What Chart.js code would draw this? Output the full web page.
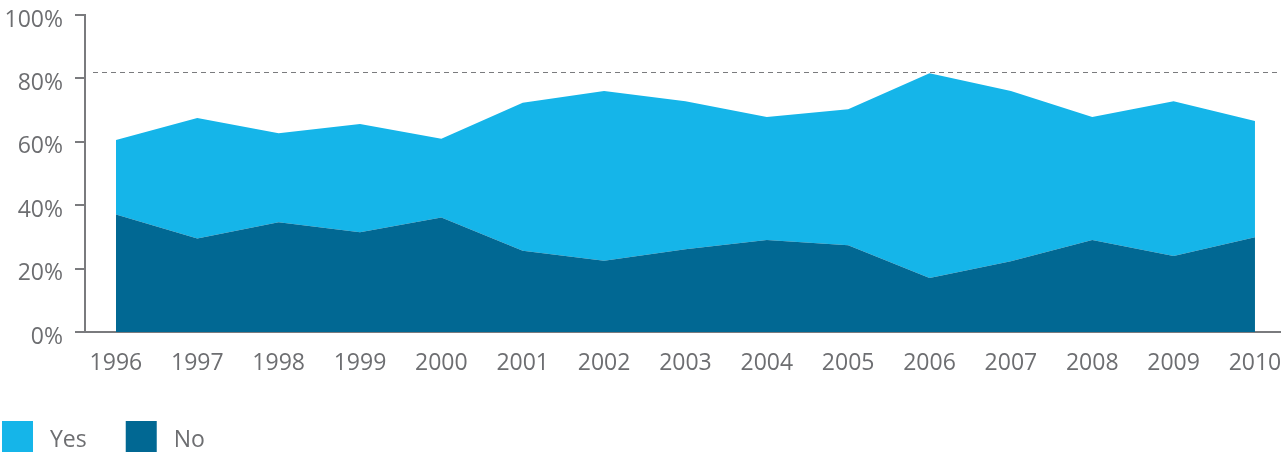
<!DOCTYPE html>
<html>
<head>
<meta charset="utf-8">
<script src="https://cdn.jsdelivr.net/npm/chart.js@4/dist/chart.umd.min.js"></script>
<style>
  html, body { margin: 0; padding: 0; background: #fff; }
  canvas { display: block; }
</style>
</head>
<body>
<canvas id="surveyChart" width="1281" height="455"></canvas>
<script>
// survey answers per year, in percent
var years = [1996, 1997, 1998, 1999, 2000, 2001, 2002, 2003, 2004, 2005, 2006, 2007, 2008, 2009, 2010];
var yesValues = [23.5, 38.0, 28.1, 34.1, 24.9, 46.7, 53.5, 46.7, 38.8, 42.9, 64.6, 53.7, 38.8, 48.8, 36.7];
var noValues = [37.1, 29.5, 34.6, 31.5, 36.1, 25.6, 22.5, 26.1, 29.0, 27.4, 17.0, 22.3, 29.0, 24.0, 29.9];
var yTicks = [0, 20, 40, 60, 80, 100];
var peakLine = 82;

var yesColor = '#15b5e9';
var noColor = '#016893';
var axisColor = '#7a7b7e';
var textColor = '#6d6e71';
var fontFamily = '"Open Sans", "Noto Sans", sans-serif';

document.addEventListener('DOMContentLoaded', function () {
    function points(values) {
        return values.map(function (v, i) { return { x: years[i], y: v }; });
    }

    // dashed line across the plot at the peak level
    var peakLinePlugin = {
        id: 'peakLine',
        afterDatasetsDraw: function (chart) {
            var ctx = chart.ctx;
            var area = chart.chartArea;
            var y = Math.round(chart.scales.y.getPixelForValue(peakLine)) + 0.5;
            ctx.save();
            ctx.strokeStyle = axisColor;
            ctx.lineWidth = 1.2;
            ctx.setLineDash([5, 4]);
            ctx.beginPath();
            ctx.moveTo(area.left + 8, y);
            ctx.lineTo(area.right, y);
            ctx.stroke();
            ctx.restore();
        }
    };

    // square swatches with labels along the bottom, Yes first
    var bottomLegend = {
        id: 'bottomLegend',
        afterDraw: function (chart) {
            var ctx = chart.ctx;
            var items = chart.data.datasets.slice().reverse();
            var x = 2;
            var top = 421;
            var box = 31;
            ctx.save();
            ctx.font = '23px ' + fontFamily;
            ctx.textBaseline = 'middle';
            ctx.textAlign = 'left';
            items.forEach(function (ds) {
                ctx.fillStyle = ds.backgroundColor;
                ctx.fillRect(x, top, box, box);
                ctx.fillStyle = textColor;
                ctx.fillText(ds.label, x + box + 17, top + box / 2 + 4);
                x += box + 17 + ctx.measureText(ds.label).width + 39;
            });
            ctx.restore();
        }
    };

    var ctx = document.getElementById('surveyChart').getContext('2d');
    var areaChart = new Chart(ctx, {
        type: 'line',
        data: {
            datasets: [{
                label: 'No',
                data: points(noValues),
                backgroundColor: noColor,
                borderWidth: 0,
                pointRadius: 0,
                fill: 'origin'
            }, {
                label: 'Yes',
                data: points(yesValues),
                backgroundColor: yesColor,
                borderWidth: 0,
                pointRadius: 0,
                fill: '-1'
            }]
        },
        options: {
            responsive: false,
            animation: false,
            layout: { padding: { top: 15, right: 0, bottom: 73, left: 0 } },
            plugins: {
                legend: { display: false },
                tooltip: { enabled: false }
            },
            elements: { line: { tension: 0 } },
            scales: {
                x: {
                    type: 'linear',
                    min: 1995.62,
                    max: 2010.32,
                    afterBuildTicks: function (scale) {
                        scale.ticks = years.map(function (v) { return { value: v }; });
                    },
                    afterFit: function (scale) {
                        scale.height = 50;
                        scale.paddingLeft = 0;
                        scale.paddingRight = 0;
                    },
                    grid: { display: false, drawTicks: false },
                    border: { display: true, color: axisColor, width: 2 },
                    ticks: {
                        autoSkip: false,
                        maxRotation: 0,
                        padding: 18,
                        color: textColor,
                        font: { family: fontFamily, size: 23 },
                        callback: function (v) { return String(v); }
                    }
                },
                y: {
                    stacked: true,
                    min: 0,
                    max: 100,
                    afterBuildTicks: function (scale) {
                        scale.ticks = yTicks.map(function (v) { return { value: v }; });
                    },
                    afterFit: function (scale) {
                        scale.width = 85;
                        scale.paddingTop = 0;
                        scale.paddingBottom = 0;
                    },
                    grid: {
                        drawOnChartArea: false,
                        drawTicks: true,
                        tickLength: 10,
                        color: axisColor,
                        lineWidth: 2
                    },
                    border: { display: true, color: axisColor, width: 2 },
                    ticks: {
                        padding: 12,
                        labelOffset: 5,
                        color: textColor,
                        font: { family: fontFamily, size: 23 },
                        callback: function (v) { return v + '%'; }
                    }
                }
            }
        },
        plugins: [peakLinePlugin, bottomLegend]
    });
});
</script>
</body>
</html>
